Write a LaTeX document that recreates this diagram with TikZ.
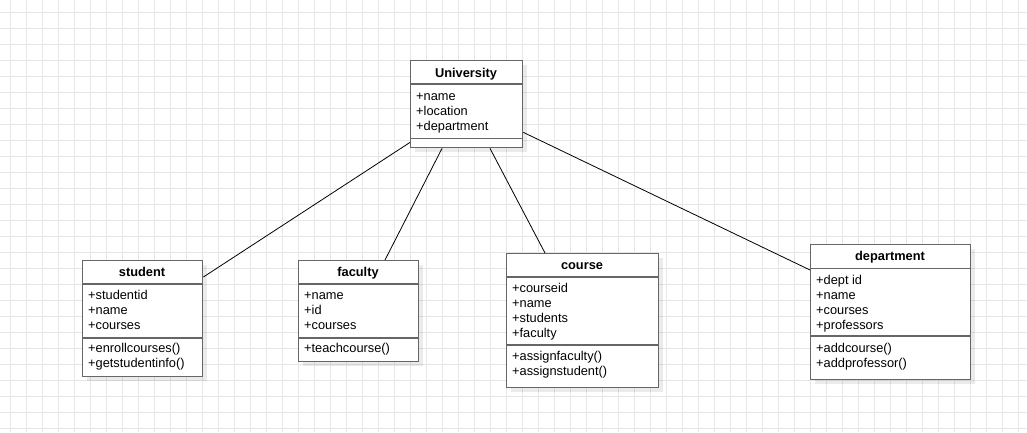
\documentclass[tikz,border=0pt]{standalone}
\usepackage{fontspec}
\setmainfont{Liberation Sans}
\usetikzlibrary{shadows}
\definecolor{gridc}{HTML}{E6E6E6}
\definecolor{boxc}{HTML}{666666}
\begin{document}
\begin{tikzpicture}[x=1pt,y=-1pt,
  gridline/.style={draw=gridc,line width=1pt},
  cls/.style={draw=boxc,line width=1.4pt,fill=white,anchor=north west,inner sep=0pt,
     drop shadow={shadow xshift=4pt,shadow yshift=-4pt,fill=black,opacity=0.08}},
  sepl/.style={draw=boxc,line width=1.4pt},
  hdr/.style={font=\fontsize{12.8}{15}\selectfont\bfseries,inner sep=0pt,text height=9pt,text depth=3pt},
  itm/.style={font=\fontsize{12.8}{15}\selectfont,anchor=west,inner sep=0pt,text height=9pt,text depth=3pt},
  conn/.style={draw=black,line width=0.8pt}]
\useasboundingbox (0,0) rectangle (1027,432);
\fill[white] (0,0) rectangle (1027,432);
\foreach \gx in {10,26,...,1026} \draw[gridline] (\gx,0) -- (\gx,432);
\foreach \gy in {12,28,...,431} \draw[gridline] (0,\gy) -- (1027,\gy);

% University
\node[cls,minimum width=112pt,minimum height=87pt] (uni) at (410,60) {};
\draw[sepl] ([yshift=-24pt]uni.north west) -- ([yshift=-24pt]uni.north east);
\draw[sepl] ([yshift=10pt]uni.south west) -- ([yshift=10pt]uni.south east);
\node[hdr] (unih) at (466,74) {University};
\node[itm] (uni1) at (416,97) {+name};
\node[itm] (uni2) at (416,112) {+location};
\node[itm] (uni3) at (416,127) {+department};

% student
\node[cls,minimum width=120pt,minimum height=116pt] (stu) at (82,260) {};
\draw[sepl] ([yshift=-24pt]stu.north west) -- ([yshift=-24pt]stu.north east);
\draw[sepl] ([yshift=-78pt]stu.north west) -- ([yshift=-78pt]stu.north east);
\node[hdr] (stuh) at (142,273) {student};
\node[itm] (stu1) at (88,296) {+studentid};
\node[itm] (stu2) at (88,311) {+name};
\node[itm] (stu3) at (88,326) {+courses};
\node[itm] (stu4) at (88,349) {+enrollcourses()};
\node[itm] (stu5) at (88,364) {+getstudentinfo()};

% faculty
\node[cls,minimum width=120pt,minimum height=101pt] (fac) at (298,260) {};
\draw[sepl] ([yshift=-24pt]fac.north west) -- ([yshift=-24pt]fac.north east);
\draw[sepl] ([yshift=-78pt]fac.north west) -- ([yshift=-78pt]fac.north east);
\node[hdr] (fach) at (358,273) {faculty};
\node[itm] (fac1) at (304,296) {+name};
\node[itm] (fac2) at (304,311) {+id};
\node[itm] (fac3) at (304,326) {+courses};
\node[itm] (fac4) at (304,349) {+teachcourse()};

% course
\node[cls,minimum width=152pt,minimum height=134pt] (crs) at (506,253) {};
\draw[sepl] ([yshift=-24pt]crs.north west) -- ([yshift=-24pt]crs.north east);
\draw[sepl] ([yshift=-92pt]crs.north west) -- ([yshift=-92pt]crs.north east);
\node[hdr] (crsh) at (582,266) {course};
\node[itm] (crs1) at (512,289) {+courseid};
\node[itm] (crs2) at (512,304) {+name};
\node[itm] (crs3) at (512,319) {+students};
\node[itm] (crs4) at (512,334) {+faculty};
\node[itm] (crs5) at (512,357) {+assignfaculty()};
\node[itm] (crs6) at (512,372) {+assignstudent()};

% department
\node[cls,minimum width=160pt,minimum height=135pt] (dep) at (810,244) {};
\draw[sepl] ([yshift=-24.5pt]dep.north west) -- ([yshift=-24.5pt]dep.north east);
\draw[sepl] ([yshift=-92pt]dep.north west) -- ([yshift=-92pt]dep.north east);
\node[hdr] (deph) at (890,257) {department};
\node[itm] (dep1) at (816,281) {+dept id};
\node[itm] (dep2) at (816,296) {+name};
\node[itm] (dep3) at (816,311) {+courses};
\node[itm] (dep4) at (816,326) {+professors};
\node[itm] (dep5) at (816,349) {+addcourse()};
\node[itm] (dep6) at (816,364) {+addprofessor()};

% connectors
\draw[conn] ([yshift=6pt]uni.south west) -- ([yshift=-17pt]stu.north east);
\draw[conn] ([xshift=32pt]uni.south west) -- ([xshift=87pt]fac.north west);
\draw[conn] ([xshift=80pt]uni.south west) -- ([xshift=39pt]crs.north west);
\draw[conn] ([yshift=16pt]uni.south east) -- ([yshift=-26pt]dep.north west);
\end{tikzpicture}
\end{document}
